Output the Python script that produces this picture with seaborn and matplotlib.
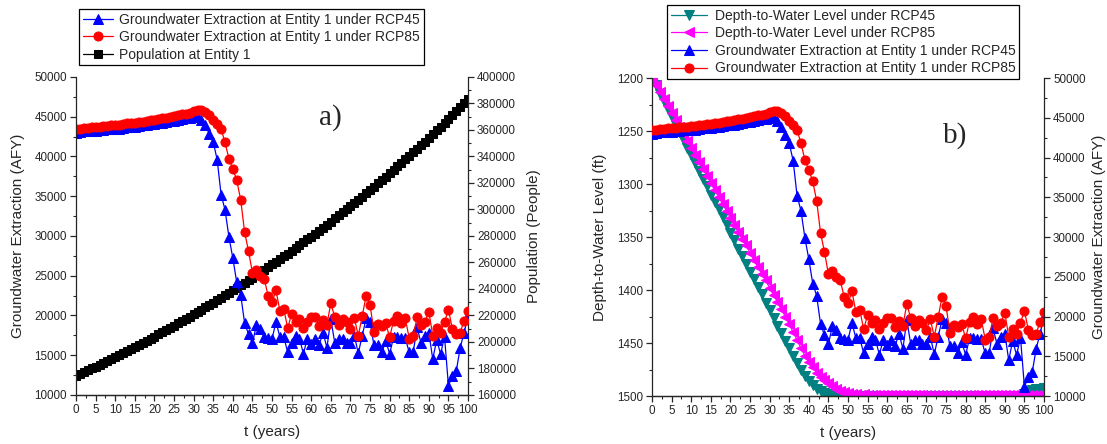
import numpy as np
import pandas as pd
import matplotlib
matplotlib.use("Agg")
import matplotlib.pyplot as plt
from matplotlib.ticker import MultipleLocator
import seaborn as sns

# ---------------- data ----------------
years = list(range(0, 101))

gw_rcp45 = [43000, 43100, 43150, 43200, 43250, 43250, 43300, 43350, 43400, 43400,
            43450, 43500, 43600, 43650, 43700, 43750, 43800, 43900, 43950, 44050,
            44100, 44150, 44250, 44350, 44450, 44500, 44600, 44700, 44800, 44900,
            44950, 45000, 44550, 43900, 42850, 41800, 39600, 35200, 33300, 29900,
            27200, 24150, 22600, 19050, 17650, 16500, 18800, 18300, 17250, 17150,
            17050, 19200, 17300, 17300, 15350, 16550, 17450, 17100, 15200, 17100,
            16400, 17050, 16250, 17850, 15950, 19550, 16550, 17100, 17100, 16550,
            16550, 17450, 15250, 17450, 19650, 19150, 16250, 16250, 15350, 16800,
            15200, 17250, 17350, 17150, 17150, 15350, 15350, 18500, 16550, 17450,
            17850, 14500, 16950, 15150, 17350, 11150, 12400, 13000, 15950, 17850,
            20000]

gw_rcp85 = [43400, 43500, 43550, 43600, 43650, 43700, 43750, 43800, 43850, 43900,
            43950, 44000, 44100, 44150, 44200, 44250, 44300, 44400, 44450, 44550,
            44600, 44700, 44800, 44900, 45000, 45100, 45200, 45300, 45400, 45500,
            45700, 45900, 45800, 45600, 45200, 44650, 44100, 43450, 41800, 39700,
            38450, 37000, 34550, 30500, 28100, 25350, 25750, 24950, 24600, 22500,
            21650, 23150, 20600, 20800, 18400, 20200, 19150, 19550, 18400, 19150,
            19750, 19750, 18650, 19450, 18800, 21600, 19750, 18800, 19550, 19200,
            18300, 19650, 17450, 19900, 22500, 21350, 17950, 18950, 18650, 19050,
            17250, 19350, 19900, 19050, 19650, 17100, 17450, 19750, 18800, 19200,
            20500, 17450, 18400, 17800, 19200, 20750, 18300, 17650, 17850, 19350,
            20600]

population = [174400, 175800, 177200, 178600, 180000, 181400, 182800, 184300, 185700, 187200,
              188700, 190200, 191700, 193200, 194700, 196300, 197800, 199400, 200900, 202500,
              204100, 205700, 207400, 209000, 210700, 212300, 214000, 215700, 217400, 219100,
              220800, 222600, 224300, 226100, 227900, 229700, 231500, 233300, 235200, 237000,
              238900, 240800, 242700, 244600, 246600, 248500, 250500, 252400, 254400, 256500,
              258500, 260500, 262600, 264700, 266700, 268900, 271000, 273100, 275300, 277500,
              279600, 281800, 284100, 286300, 288600, 290900, 293200, 295500, 297800, 300200,
              302500, 304900, 307300, 309800, 312200, 314700, 317200, 319700, 322200, 324700,
              327300, 329900, 332500, 335100, 337800, 340400, 343100, 345800, 348600, 351300,
              354100, 356900, 359700, 362600, 365400, 368300, 371200, 374200, 377100, 380100,
              383100]

depth_rcp45 = [1200, 1207, 1215, 1222, 1229, 1237, 1244, 1251, 1258, 1266,
               1273, 1280, 1288, 1295, 1302, 1310, 1317, 1324, 1331, 1339,
               1346, 1353, 1361, 1368, 1375, 1383, 1390, 1397, 1404, 1412,
               1419, 1426, 1434, 1441, 1448, 1455, 1462, 1469, 1475, 1481,
               1486, 1490, 1493, 1495, 1497, 1498, 1499, 1499.5, 1500, 1500,
               1500, 1500, 1500, 1500, 1500, 1500, 1500, 1500, 1500, 1500,
               1500, 1500, 1500, 1500, 1500, 1500, 1500, 1500, 1500, 1500,
               1500, 1500, 1500, 1500, 1500, 1500, 1500, 1500, 1500, 1500,
               1500, 1500, 1500, 1500, 1500, 1500, 1500, 1500, 1500, 1500,
               1500, 1500, 1500, 1500, 1500, 1498, 1495, 1494, 1493.5, 1493,
               1492.5]

depth_rcp85 = [1200, 1206.6, 1213, 1220, 1226, 1233, 1240, 1246, 1253, 1259,
               1266, 1273, 1279, 1286, 1292, 1299, 1306, 1312, 1319, 1325,
               1332, 1339, 1345, 1352, 1358, 1365, 1372, 1378, 1385, 1391,
               1398, 1405, 1411, 1418, 1425, 1432, 1440, 1447, 1455, 1462,
               1468, 1473, 1478, 1482, 1485, 1488, 1491, 1493, 1495, 1496,
               1497, 1498, 1498.5, 1499, 1498.5, 1499.2, 1498.8, 1499.4, 1498.6, 1499,
               1499.3, 1498.7, 1499.2, 1498.8, 1499.4, 1498.6, 1499.1, 1498.7, 1499.3, 1498.9,
               1499.2, 1498.6, 1499.3, 1498.8, 1499.1, 1498.7, 1499.4, 1498.8, 1499, 1498.6,
               1499.3, 1498.9, 1499.2, 1498.7, 1499.1, 1498.6, 1499.3, 1498.8, 1499.2, 1498.9,
               1499.1, 1498.7, 1499.3, 1498.8, 1499.2, 1498.7, 1499.1, 1498.8, 1499.3, 1498.9,
               1499.1]

labels_a = ["Groundwater Extraction at Entity 1 under RCP45",
            "Groundwater Extraction at Entity 1 under RCP85",
            "Population at Entity 1"]
labels_b = ["Depth-to-Water Level under RCP45",
            "Depth-to-Water Level under RCP85",
            "Groundwater Extraction at Entity 1 under RCP45",
            "Groundwater Extraction at Entity 1 under RCP85"]

# ---------------- style ----------------
sns.set_style("ticks")
plt.rcParams['font.family'] = ['Liberation Sans', 'DejaVu Sans']
plt.rcParams['axes.linewidth'] = 0.9

TICK_FS = 8.4
LABEL_FS = 11
LEG_FS = 10

BLUE = '#0000FF'
RED = '#FF0000'
TEAL = '#008080'
MAGENTA = '#FF00FF'

fig = plt.figure(figsize=(11.07, 4.44), dpi=100)

ax_a = fig.add_axes([0.0687, 0.1104, 0.3541, 0.7162])
ax_a2 = ax_a.twinx()
ax_b = fig.add_axes([0.589, 0.1081, 0.3541, 0.7162])
ax_b2 = ax_b.twinx()


def style_axes(ax, twin):
    for a in (ax, twin):
        a.spines['top'].set_visible(False)
        a.tick_params(axis='both', which='major', direction='out', length=4.5,
                      width=0.9, labelsize=TICK_FS, pad=2)
        a.tick_params(axis='both', which='minor', direction='out', length=2.5, width=0.8)
    ax.spines['right'].set_visible(False)
    twin.spines['left'].set_visible(False)
    ax.set_xlim(0, 100)
    ax.xaxis.set_major_locator(MultipleLocator(5))
    ax.xaxis.set_minor_locator(MultipleLocator(2.5))
    ax.set_xlabel("t (years)", fontsize=LABEL_FS, labelpad=6.5)


ms = 6.5
lw = 0.9

# ---- panel a ----
df_a = pd.DataFrame({"t": years, "g45": gw_rcp45, "g85": gw_rcp85, "pop": population})
sns.lineplot(data=df_a, x="t", y="pop", ax=ax_a2, color='black', marker='s',
             markersize=5.3, markeredgecolor='black', linewidth=lw, legend=False)
sns.lineplot(data=df_a, x="t", y="g45", ax=ax_a, color=BLUE, marker='^',
             markersize=ms, markeredgecolor=BLUE, linewidth=lw, legend=False)
sns.lineplot(data=df_a, x="t", y="g85", ax=ax_a, color=RED, marker='o',
             markersize=ms, markeredgecolor=RED, linewidth=lw, legend=False)
ax_a.set_zorder(ax_a2.get_zorder() + 1)
ax_a.patch.set_visible(False)

style_axes(ax_a, ax_a2)
ax_a.set_ylim(10000, 50000)
ax_a.yaxis.set_major_locator(MultipleLocator(5000))
ax_a.yaxis.set_minor_locator(MultipleLocator(2500))
ax_a.set_ylabel("Groundwater Extraction (AFY)", fontsize=LABEL_FS, labelpad=7)
ax_a2.set_ylim(160000, 400000)
ax_a2.yaxis.set_major_locator(MultipleLocator(20000))
ax_a2.yaxis.set_minor_locator(MultipleLocator(10000))
ax_a2.set_ylabel("Population (People)", fontsize=LABEL_FS, labelpad=8)
ax_a.text(0.648, 0.874, "a)", transform=ax_a.transAxes, fontsize=21,
          family=['Liberation Serif', 'DejaVu Serif'], ha='center', va='center')

h_a = [ax_a.get_lines()[0], ax_a.get_lines()[1], ax_a2.get_lines()[0]]
fig.legend(h_a, labels_a, loc='upper left', bbox_to_anchor=(0.0714, 0.9797),
           bbox_transform=fig.transFigure, fontsize=LEG_FS, frameon=True,
           fancybox=False, edgecolor='black', framealpha=1, borderaxespad=0,
           handlelength=2.2, handletextpad=0.45, labelspacing=0.26, borderpad=0.26,
           numpoints=1).get_frame().set_linewidth(0.9)

# ---- panel b ----
df_b = pd.DataFrame({"t": years, "d45": depth_rcp45, "d85": depth_rcp85,
                     "g45": gw_rcp45, "g85": gw_rcp85})
sns.lineplot(data=df_b, x="t", y="d45", ax=ax_b, color=TEAL, marker='v',
             markersize=ms, markeredgecolor=TEAL, linewidth=lw, legend=False)
sns.lineplot(data=df_b, x="t", y="d85", ax=ax_b, color=MAGENTA, marker='<',
             markersize=ms, markeredgecolor=MAGENTA, linewidth=lw, legend=False)
sns.lineplot(data=df_b, x="t", y="g45", ax=ax_b2, color=BLUE, marker='^',
             markersize=ms, markeredgecolor=BLUE, linewidth=lw, legend=False)
sns.lineplot(data=df_b, x="t", y="g85", ax=ax_b2, color=RED, marker='o',
             markersize=ms, markeredgecolor=RED, linewidth=lw, legend=False)

style_axes(ax_b, ax_b2)
ax_b.set_ylim(1500, 1200)
ax_b.yaxis.set_major_locator(MultipleLocator(50))
ax_b.yaxis.set_minor_locator(MultipleLocator(25))
ax_b.set_ylabel("Depth-to-Water Level (ft)", fontsize=LABEL_FS, labelpad=7)
ax_b2.set_ylim(10000, 50000)
ax_b2.yaxis.set_major_locator(MultipleLocator(5000))
ax_b2.yaxis.set_minor_locator(MultipleLocator(2500))
ax_b2.set_ylabel("Groundwater Extraction (AFY)", fontsize=LABEL_FS, labelpad=5)
ax_b.text(0.773, 0.82, "b)", transform=ax_b.transAxes, fontsize=21,
          family=['Liberation Serif', 'DejaVu Serif'], ha='center', va='center')

h_b = [ax_b.get_lines()[0], ax_b.get_lines()[1], ax_b2.get_lines()[0], ax_b2.get_lines()[1]]
fig.legend(h_b, labels_b, loc='upper left', bbox_to_anchor=(0.6025, 0.9887),
           bbox_transform=fig.transFigure, fontsize=LEG_FS, frameon=True,
           fancybox=False, edgecolor='black', framealpha=1, borderaxespad=0,
           handlelength=2.6, handletextpad=0.6, labelspacing=0.26, borderpad=0.26,
           numpoints=1).get_frame().set_linewidth(0.9)

fig.savefig("out.png", dpi=100)
